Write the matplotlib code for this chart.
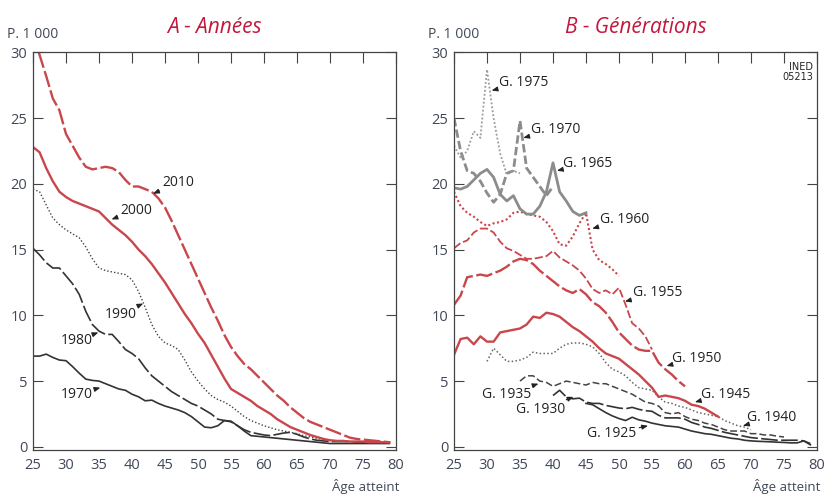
import matplotlib

matplotlib.use("Agg")
import matplotlib.pyplot as plt

plt.rcParams["font.family"] = ["Open Sans", "DejaVu Sans"]

RED = "#c9474c"
GREY = "#8c8c8c"
DARK = "#333333"
TXT = "#404858"
TITLE = "#c3173c"

ages = list(range(25, 80))

# Panel A - fertility rate by age, per calendar year (per 1000)
y2010 = [31.5, 29.8, 28.2, 26.5, 25.6, 23.8, 22.9, 22.0, 21.3, 21.1, 21.2, 21.3,
         21.2, 20.9, 20.3, 19.8, 19.8, 19.6, 19.4, 18.9, 18.2, 17.2, 16.1, 15.0,
         13.9, 12.8, 11.7, 10.6, 9.6, 8.5, 7.6, 6.9, 6.3, 5.9, 5.4, 4.9, 4.4, 3.9,
         3.5, 3.0, 2.6, 2.2, 1.9, 1.7, 1.5, 1.3, 1.1, 0.9, 0.7, 0.6, 0.55, 0.5,
         0.45, 0.4, 0.35]
y2000 = [22.8, 22.4, 21.2, 20.2, 19.4, 19.0, 18.7, 18.5, 18.3, 18.1, 17.9, 17.4,
         16.9, 16.5, 16.1, 15.6, 15.0, 14.5, 13.9, 13.2, 12.5, 11.7, 10.9, 10.1,
         9.4, 8.6, 7.9, 7.0, 6.1, 5.2, 4.4, 4.1, 3.8, 3.5, 3.1, 2.8, 2.5, 2.1, 1.8,
         1.5, 1.3, 1.1, 0.9, 0.75, 0.6, 0.5, 0.45, 0.45, 0.4, 0.4, 0.4, 0.35,
         0.35, 0.35, 0.35]
y1990 = [19.6, 19.4, 18.4, 17.4, 16.9, 16.5, 16.2, 15.9, 15.2, 14.3, 13.6, 13.4,
         13.3, 13.2, 13.1, 12.7, 11.8, 10.6, 9.3, 8.4, 7.9, 7.7, 7.4, 6.6, 5.7,
         5.0, 4.4, 3.9, 3.6, 3.4, 3.1, 2.7, 2.3, 2.0, 1.8, 1.6, 1.45, 1.3, 1.2,
         1.1, 1.0, 0.85, 0.75, 0.65, 0.55, 0.5, 0.45, 0.45, 0.4, 0.4, 0.4, 0.35,
         0.35, 0.3, 0.3]
y1980 = [15.1, 14.6, 14.0, 13.6, 13.6, 13.0, 12.4, 11.6, 10.3, 9.3, 8.8, 8.55,
         8.55, 8.0, 7.4, 7.1, 6.7, 6.0, 5.4, 5.0, 4.6, 4.2, 3.9, 3.6, 3.3, 3.1,
         2.8, 2.5, 2.1, 2.0, 1.9, 1.6, 1.3, 1.1, 1.0, 0.9, 0.85, 0.95, 1.05, 1.1,
         0.95, 0.75, 0.6, 0.5, 0.45, 0.4, 0.4, 0.4, 0.4, 0.35, 0.35, 0.35, 0.3,
         0.3, 0.3]
y1970 = [6.9, 6.9, 7.05, 6.8, 6.6, 6.55, 6.1, 5.6, 5.15, 5.05, 5.0, 4.8, 4.6,
         4.4, 4.3, 4.0, 3.8, 3.5, 3.55, 3.3, 3.1, 2.95, 2.8, 2.6, 2.3, 1.9, 1.5,
         1.45, 1.6, 2.0, 1.95, 1.6, 1.2, 0.85, 0.8, 0.75, 0.7, 0.65, 0.6, 0.55,
         0.5, 0.45, 0.4, 0.35, 0.3, 0.25, 0.25, 0.25, 0.25, 0.25, 0.25, 0.25,
         0.25, 0.25, 0.25]

# Panel B - same rates followed by birth cohort (start age, values)
g1975 = (25, [22.9, 22.0, 22.5, 24.0, 23.5, 28.7, 25.0, 22.3, 20.7, 21.0, 20.8])
g1970 = (25, [25.0, 22.5, 21.0, 20.8, 20.2, 19.3, 18.6, 19.2, 20.8, 21.0, 24.8,
              21.2, 20.5, 19.8, 19.1, 19.8])
g1965 = (25, [19.7, 19.6, 19.8, 20.3, 20.8, 21.1, 20.5, 19.2, 18.7, 19.1, 18.1,
              17.7, 17.7, 18.3, 19.4, 21.6, 19.4, 18.7, 17.9, 17.6, 17.8])
g1960 = (25, [19.4, 18.3, 17.8, 17.5, 17.1, 16.8, 17.0, 17.1, 17.3, 17.8, 17.9,
              17.7, 17.6, 17.5, 17.1, 16.4, 15.4, 15.3, 16.0, 17.0, 17.8, 15.0,
              14.2, 13.9, 13.5, 13.0])
g1955 = (25, [15.1, 15.5, 15.7, 16.3, 16.6, 16.6, 16.3, 15.6, 15.1, 14.9, 14.6,
              14.3, 14.3, 14.4, 14.5, 14.9, 14.4, 14.1, 13.8, 13.4, 12.8, 12.0,
              11.7, 11.9, 11.6, 12.1, 10.8, 9.4, 9.0, 8.4, 7.4])
g1950 = (25, [10.8, 11.5, 12.9, 13.0, 13.1, 13.0, 13.2, 13.4, 13.7, 14.1, 14.3,
              14.2, 13.9, 13.4, 13.0, 12.6, 12.2, 11.9, 11.7, 12.0, 11.6, 11.0,
              10.7, 10.2, 9.5, 8.7, 8.2, 7.7, 7.4, 7.3, 7.3, 6.4, 5.9, 5.5, 5.0,
              4.6])
g1945 = (25, [7.0, 8.2, 8.3, 7.8, 8.4, 8.0, 8.0, 8.7, 8.8, 8.9, 9.0, 9.3, 9.9,
              9.8, 10.2, 10.1, 9.9, 9.5, 9.1, 8.8, 8.4, 8.0, 7.5, 7.1, 6.9, 6.7,
              6.3, 5.9, 5.5, 5.0, 4.5, 3.8, 3.9, 3.8, 3.7, 3.5, 3.2, 3.1, 2.9, 2.6,
              2.3])
g1940 = (30, [6.5, 7.5, 7.0, 6.5, 6.5, 6.6, 6.8, 7.2, 7.1, 7.1, 7.1, 7.5, 7.8,
              7.9, 7.9, 7.8, 7.6, 7.1, 6.4, 5.9, 5.7, 5.4, 4.9, 4.5, 4.4, 4.3, 3.8,
              3.4, 3.3, 3.1, 3.0, 2.8, 2.6, 2.5, 2.4, 2.3, 2.0, 1.8, 1.6, 1.5, 1.3])
g1935 = (35, [5.0, 5.4, 5.4, 5.0, 4.9, 4.6, 4.8, 5.0, 4.9, 4.8, 4.7, 4.9, 4.8,
              4.8, 4.6, 4.4, 4.2, 4.0, 3.7, 3.4, 3.3, 3.1, 2.6, 2.5, 2.6, 2.3, 2.1,
              2.0, 1.8, 1.7, 1.5, 1.3, 1.2, 1.2, 1.2, 1.0, 1.0, 0.9, 0.9, 0.8,
              0.75])
g1930 = (40, [3.9, 4.3, 3.8, 3.65, 3.7, 3.4, 3.3, 3.3, 3.15, 3.05, 2.95, 2.9,
              3.0, 2.85, 2.75, 2.7, 2.4, 2.2, 2.2, 2.2, 2.1, 1.85, 1.7, 1.5, 1.4,
              1.25, 1.1, 1.0, 0.9, 0.8, 0.7, 0.65, 0.6, 0.55, 0.5, 0.5, 0.5, 0.5,
              0.45, 0.25])
g1925 = (45, [3.3, 3.2, 2.9, 2.6, 2.35, 2.15, 2.0, 2.25, 2.05, 1.95, 1.8, 1.7,
              1.6, 1.55, 1.5, 1.35, 1.2, 1.1, 1.0, 0.95, 0.85, 0.75, 0.65, 0.6,
              0.5, 0.45, 0.42, 0.4, 0.38, 0.35, 0.33, 0.3, 0.3, 0.45, 0.15])


def frame(ax):
    ax.set_xlim(25, 80)
    ax.set_ylim(-0.25, 30)
    ax.set_xticks(range(25, 81, 5))
    ax.set_yticks(range(0, 31, 5))
    ax.tick_params(axis="y", direction="in", length=7, left=True, right=True,
                   labelsize=10.5, labelcolor=TXT, color="#444", pad=4)
    ax.tick_params(axis="x", direction="in", length=8, top=True, bottom=False,
                   labelsize=10.5, labelcolor=TXT, color="#444", pad=6)
    for s in ax.spines.values():
        s.set_color("#444")
        s.set_linewidth(0.9)
    ax.text(0, 1.025, "P. 1 000", transform=ax.transAxes, ha="center",
            va="bottom", fontsize=10, color=TXT)
    ax.text(1.01, -0.092, "Âge atteint", transform=ax.transAxes, ha="right",
            va="center", fontsize=9.5, color=TXT)


def label(ax, txt, xy, xytext):
    ax.annotate(txt, xy=xy, xytext=xytext, ha="center", va="center",
                fontsize=10, color="#222",
                arrowprops=dict(arrowstyle="-|>,head_length=0.35,head_width=0.14",
                                color="#222", lw=0.8, shrinkA=0, shrinkB=0))


def cohort(ax, data, **kw):
    start, vals = data
    ax.plot(range(start, start + len(vals)), vals, **kw)


fig = plt.figure(figsize=(8.25, 4.99), dpi=100)
axA = fig.add_axes([0.040, 0.098, 0.440, 0.797])
axB = fig.add_axes([0.5503, 0.098, 0.440, 0.797])

# ---- A - Années
axA.plot(ages, y1970, color=DARK, lw=1.2)
axA.plot(ages, y1980, color=DARK, lw=1.2, dashes=(10, 2))
axA.plot(ages, y1990, color="#444", lw=1.0, dashes=(1, 1.5))
axA.plot(ages, y2000, color=RED, lw=1.7)
axA.plot(ages, y2010, color=RED, lw=1.7, dashes=(7, 1.5))
frame(axA)
axA.set_title("A - Années", fontsize=15, style="italic", color=TITLE, pad=14)
label(axA, "2010", (43.2, 19.25), (47.0, 20.1))
label(axA, "2000", (36.9, 17.3), (40.6, 18.0))
label(axA, "1990", (41.7, 10.9), (38.3, 10.1))
label(axA, "1980", (34.9, 8.7), (31.7, 8.1))
label(axA, "1970", (35.2, 4.5), (31.7, 4.0))

# ---- B - Générations
cohort(axB, g1925, color=DARK, lw=1.2)
cohort(axB, g1930, color=DARK, lw=1.2, dashes=(10, 2))
cohort(axB, g1935, color="#444", lw=1.1, dashes=(4.5, 2))
cohort(axB, g1940, color="#666", lw=1.1, dashes=(1, 1.5))
cohort(axB, g1945, color=RED, lw=1.7)
cohort(axB, g1950, color=RED, lw=1.7, dashes=(7, 1.5))
cohort(axB, g1955, color=RED, lw=1.3, dashes=(4.5, 1.6))
cohort(axB, g1960, color=RED, lw=1.5, dashes=(1, 1.2))
cohort(axB, g1965, color=GREY, lw=2.0)
cohort(axB, g1970, color=GREY, lw=2.0, dashes=(3, 1.2))
cohort(axB, g1975, color="#9a9a9a", lw=1.3, dashes=(1, 1.2))
frame(axB)
axB.set_title("B - Générations", fontsize=15, style="italic", color=TITLE, pad=14)
axB.text(0.989, 0.975, "INED\n05213", transform=axB.transAxes, ha="right",
         va="top", fontsize=7, linespacing=0.9, color="#222",
         family=["Liberation Sans Narrow", "DejaVu Sans"])
label(axB, "G. 1975", (30.7, 27.1), (35.5, 27.7))
label(axB, "G. 1970", (35.5, 23.5), (40.4, 24.15))
label(axB, "G. 1965", (40.6, 21.0), (45.3, 21.55))
label(axB, "G. 1960", (45.95, 16.6), (50.8, 17.3))
label(axB, "G. 1955", (50.9, 11.05), (55.8, 11.7))
label(axB, "G. 1950", (57.2, 6.15), (61.7, 6.75))
label(axB, "G. 1945", (61.5, 3.4), (66.1, 4.0))
label(axB, "G. 1940", (68.8, 1.6), (73.2, 2.25))
label(axB, "G. 1935", (37.8, 4.8), (33.0, 4.0))
label(axB, "G. 1930", (43.1, 3.8), (38.1, 2.8))
label(axB, "G. 1925", (54.4, 1.6), (48.9, 1.0))

fig.savefig("out.png", dpi=100)
